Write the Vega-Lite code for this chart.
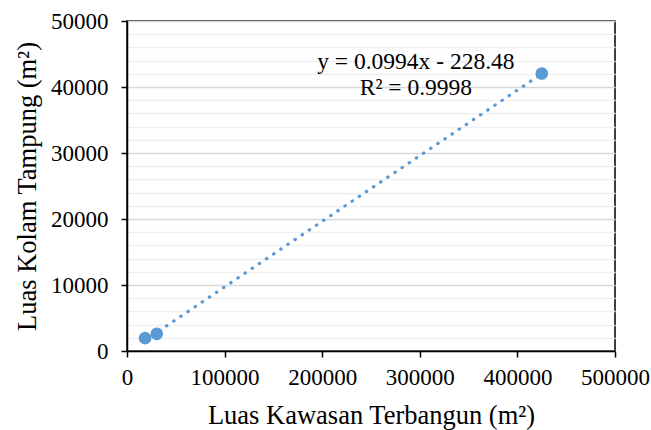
{
  "$schema": "https://vega.github.io/schema/vega-lite/v6.json",
  "width": 488,
  "height": 330,
  "autosize": {"type": "none"},
  "padding": {"left": 127, "top": 21, "right": 36, "bottom": 79},
  "background": "white",
  "config": {
    "view": {"stroke": "#000000", "strokeWidth": 1.5},
    "font": "Liberation Serif",
    "axis": {"labelFont": "Liberation Serif", "titleFont": "Liberation Serif", "labelFontSize": 23, "titleFontSize": 26.5},
    "text": {"font": "Liberation Serif"}
  },
  "datasets": {
    "points": [
      {"kawasan": 18500, "kolam": 1950},
      {"kawasan": 30500, "kolam": 2600},
      {"kawasan": 425000, "kolam": 42050}
    ],
    "trend": [
      {"kawasan": 18500, "kolam": 1610},
      {"kawasan": 425000, "kolam": 42016}
    ],
    "labels": [
      {"kawasan": 296000, "kolam": 43790, "text": "y = 0.0994x - 228.48"},
      {"kawasan": 296000, "kolam": 39850, "text": "R² = 0.9998"}
    ]
  },
  "encoding": {
    "x": {
      "field": "kawasan",
      "type": "quantitative",
      "scale": {"domain": [0, 500000], "nice": false, "zero": true},
      "axis": {
        "title": "Luas Kawasan Terbangun (m²)",
        "values": [0, 100000, 200000, 300000, 400000, 500000],
        "format": "d",
        "grid": false,
        "domainColor": "#000000",
        "domainWidth": 1.5,
        "tickColor": "#000000",
        "tickWidth": 1.5,
        "tickSize": 6,
        "labelFont": "Liberation Serif",
        "labelFontSize": 23,
        "labelColor": "#000000",
        "labelPadding": 9,
        "labelFlush": false,
        "titleFont": "Liberation Serif",
        "titleFontSize": 26.5,
        "titleFontWeight": "normal",
        "titleColor": "#000000",
        "titleBaseline": "alphabetic",
        "titleY": 72
      }
    },
    "y": {
      "field": "kolam",
      "type": "quantitative",
      "scale": {"domain": [0, 50000], "nice": false, "zero": true},
      "axis": {
        "title": "Luas Kolam Tampung (m²)",
        "values": [0, 2000, 4000, 6000, 8000, 10000, 12000, 14000, 16000, 18000, 20000, 22000, 24000, 26000, 28000, 30000, 32000, 34000, 36000, 38000, 40000, 42000, 44000, 46000, 48000, 50000],
        "format": "d",
        "labelExpr": "datum.value % 10000 === 0 ? datum.label : ''",
        "grid": true,
        "gridColor": {"condition": {"test": "datum.value % 10000 === 0", "value": "#d9d9d9"}, "value": "#f0f0f0"},
        "gridWidth": 1.5,
        "domainColor": "#000000",
        "domainWidth": 1.5,
        "tickColor": {"condition": {"test": "datum.value % 10000 === 0", "value": "#000000"}, "value": "transparent"},
        "tickWidth": 1.5,
        "tickSize": 6,
        "labelFont": "Liberation Serif",
        "labelFontSize": 23,
        "labelColor": "#000000",
        "labelPadding": 13,
        "labelFlush": false,
        "labelOverlap": false,
        "titleFont": "Liberation Serif",
        "titleFontSize": 26.5,
        "titleFontWeight": "normal",
        "titleColor": "#000000",
        "titleBaseline": "alphabetic",
        "titleX": -92
      }
    }
  },
  "layer": [
    {
      "data": {"name": "trend"},
      "mark": {"type": "line", "color": "#5b9bd5", "strokeWidth": 3.2, "strokeDash": [0.5, 8.1], "strokeCap": "round"}
    },
    {
      "data": {"name": "points"},
      "mark": {"type": "circle", "color": "#5b9bd5", "size": 160, "opacity": 1}
    },
    {
      "data": {"name": "labels"},
      "mark": {"type": "text", "font": "Liberation Serif", "fontSize": 23.5, "color": "#000000", "align": "center", "baseline": "middle"},
      "encoding": {"text": {"field": "text", "type": "nominal"}}
    }
  ]
}
